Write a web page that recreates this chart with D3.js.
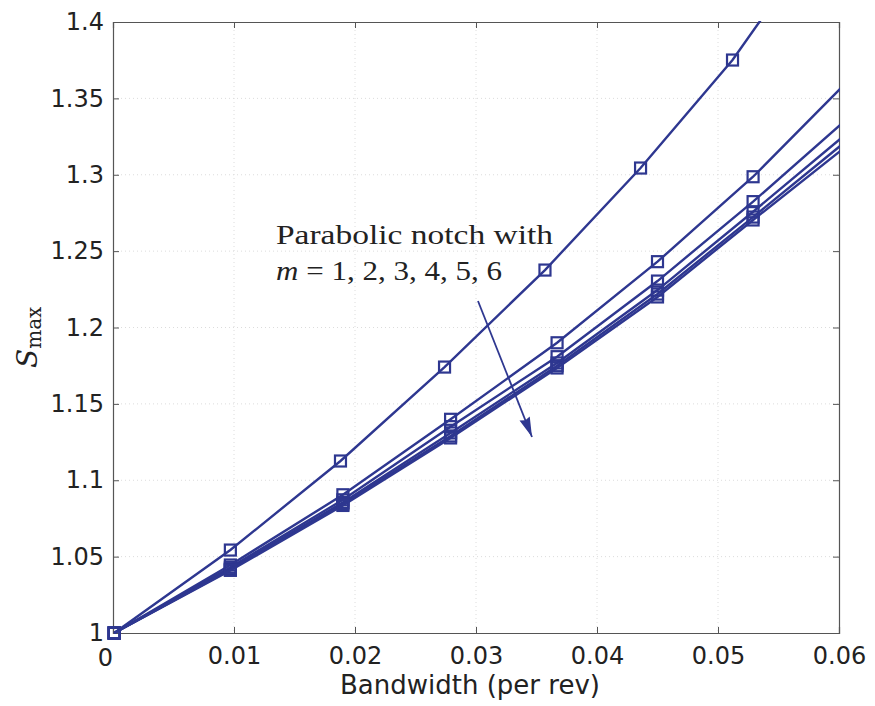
<!DOCTYPE html>
<html lang="en">
<head>
  <meta charset="UTF-8">
  <title>Smax vs Bandwidth</title>
  <script src="https://d3js.org/d3.v7.min.js"></script>
  <style>
    body { margin: 0; background: #fff; }
  </style>
</head>
<body>
  <svg width="875" height="706"></svg>

  <script>
    // x positions of the computed points (per rev)
    const xM1 = [0.0001, 0.0097, 0.0188, 0.0274, 0.0357, 0.0436, 0.0512, 0.0587];
    const xRest = [0.0001, 0.0097, 0.0190, 0.0279, 0.0367, 0.0450, 0.0529, 0.0615];

    // Smax for m = 1..6
    const m1 = [1.0, 1.0543, 1.1126, 1.1741, 1.2376, 1.3044, 1.3751, 1.4593];
    const m2 = [1.0, 1.0445, 1.0905, 1.1399, 1.1900, 1.2431, 1.2987, 1.3675];
    const m3 = [1.0, 1.0430, 1.0872, 1.1351, 1.1809, 1.2304, 1.2824, 1.3424];
    const m4 = [1.0, 1.0420, 1.0855, 1.1310, 1.1768, 1.2245, 1.2758, 1.3327];
    const m5 = [1.0, 1.0415, 1.0845, 1.1290, 1.1750, 1.2219, 1.2723, 1.3279];
    const m6 = [1.0, 1.0410, 1.0835, 1.1277, 1.1735, 1.2200, 1.2704, 1.3243];

    const xTicks = [0, 0.01, 0.02, 0.03, 0.04, 0.05, 0.06];
    const yTicks = [1, 1.05, 1.1, 1.15, 1.2, 1.25, 1.3, 1.35, 1.4];

    const series = [
      { xs: xM1, ys: m1 },
      { xs: xRest, ys: m2 },
      { xs: xRest, ys: m3 },
      { xs: xRest, ys: m4 },
      { xs: xRest, ys: m5 },
      { xs: xRest, ys: m6 }
    ];

    const color = "#2e3790";
    const svg = d3.select("svg");
    const mLeft = 113, mRight = 839, mTop = 22, mBottom = 633;

    const x = d3.scaleLinear().domain([0, 0.06]).range([mLeft, mRight]);
    const y = d3.scaleLinear().domain([1, 1.4]).range([mBottom, mTop]);

    // dotted grid
    const grid = svg.append("g").attr("stroke", "#dcdcdc").attr("stroke-dasharray", "1,3");
    grid.selectAll(".gx").data(xTicks.slice(1, -1)).enter().append("line")
        .attr("x1", d => x(d)).attr("x2", d => x(d))
        .attr("y1", mTop).attr("y2", mBottom);
    grid.selectAll(".gy").data(yTicks.slice(1, -1)).enter().append("line")
        .attr("x1", mLeft).attr("x2", mRight)
        .attr("y1", d => y(d)).attr("y2", d => y(d));

    // axes
    const fmt = d => d === 0 ? "0" : String(d);
    const xAxis = svg.append("g")
        .attr("transform", `translate(0,${mBottom})`)
        .call(d3.axisBottom(x).tickValues(xTicks).tickFormat(fmt).tickSize(-6).tickPadding(14));
    const yAxis = svg.append("g")
        .attr("transform", `translate(${mLeft},0)`)
        .call(d3.axisLeft(y).tickValues(yTicks).tickFormat(fmt).tickSize(-6).tickPadding(9));
    svg.append("g")
        .attr("transform", `translate(0,${mTop})`)
        .call(d3.axisTop(x).tickValues(xTicks).tickFormat("").tickSize(-6));
    svg.append("g")
        .attr("transform", `translate(${mRight},0)`)
        .call(d3.axisRight(y).tickValues(yTicks).tickFormat("").tickSize(-6));

    svg.selectAll(".domain").attr("stroke", "#555").attr("stroke-width", 1.2);
    svg.selectAll(".tick line").attr("stroke", "#555");
    svg.selectAll(".tick text")
        .attr("fill", "#222")
        .style("font-family", "'DejaVu Sans', sans-serif")
        .style("font-size", "24px");
    xAxis.selectAll(".tick text").attr("dy", "0.71em");
    // the zero label sits a little left of its tick in the original
    xAxis.selectAll(".tick text").filter(d => d === 0).attr("x", -8).attr("y", 16);

    // clip to plot area
    svg.append("clipPath").attr("id", "plot")
      .append("rect").attr("x", mLeft - 8).attr("y", mTop - 1)
      .attr("width", mRight - mLeft + 9).attr("height", mBottom - mTop + 10);

    const line = d3.line().x(d => x(d[0])).y(d => y(d[1]));
    const plot = svg.append("g").attr("clip-path", "url(#plot)");

    series.forEach(s => {
      const pts = s.xs.map((v, i) => [v, s.ys[i]]);
      plot.append("path").datum(pts)
          .attr("d", line)
          .attr("fill", "none")
          .attr("stroke", color)
          .attr("stroke-width", 2.4);
      plot.selectAll(null).data(pts.filter(d => d[0] <= 0.06 && d[1] <= 1.4)).enter().append("rect")
          .attr("x", d => x(d[0]) - 5.5)
          .attr("y", d => y(d[1]) - 5.5)
          .attr("width", 11).attr("height", 11)
          .attr("fill", "none")
          .attr("stroke", color)
          .attr("stroke-width", 2.2);
    });

    // annotation
    svg.append("text")
        .attr("x", 276).attr("y", 244)
        .attr("textLength", 277).attr("lengthAdjust", "spacingAndGlyphs")
        .style("font-family", "'Liberation Serif', serif")
        .style("font-size", "28px")
        .attr("fill", "#222")
        .text("Parabolic notch with");
    const t2 = svg.append("text")
        .attr("x", 276).attr("y", 280)
        .attr("textLength", 226).attr("lengthAdjust", "spacingAndGlyphs")
        .style("font-family", "'Liberation Serif', serif")
        .style("font-size", "28px")
        .attr("fill", "#222");
    t2.append("tspan").style("font-style", "italic").text("m");
    t2.append("tspan").text(" = 1, 2, 3, 4, 5, 6");

    const defs = svg.append("defs");
    defs.append("marker").attr("id", "arrow")
        .attr("viewBox", "0 0 20 12").attr("refX", 20).attr("refY", 6)
        .attr("markerWidth", 20).attr("markerHeight", 12)
        .attr("markerUnits", "userSpaceOnUse")
        .attr("orient", "auto")
      .append("path").attr("d", "M0,0.5 L20,6 L0,11.5 L2,6 Z").attr("fill", color);
    svg.append("line")
        .attr("x1", 478).attr("y1", 301)
        .attr("x2", 532).attr("y2", 437)
        .attr("stroke", color).attr("stroke-width", 1.8)
        .attr("marker-end", "url(#arrow)");

    // axis labels
    svg.append("text")
        .attr("x", 470).attr("y", 694)
        .attr("text-anchor", "middle")
        .style("font-family", "'DejaVu Sans', sans-serif")
        .style("font-size", "26px")
        .attr("fill", "#222")
        .text("Bandwidth (per rev)");

    const yl = svg.append("text")
        .attr("transform", "translate(37,368) rotate(-90)")
        .style("font-family", "'DejaVu Serif', 'Liberation Serif', serif")
        .attr("fill", "#222");
    yl.append("tspan").style("font-style", "italic").style("font-size", "28px").text("S");
    yl.append("tspan").style("font-size", "20px").attr("dy", 4).text("max");
  </script>
</body>
</html>
